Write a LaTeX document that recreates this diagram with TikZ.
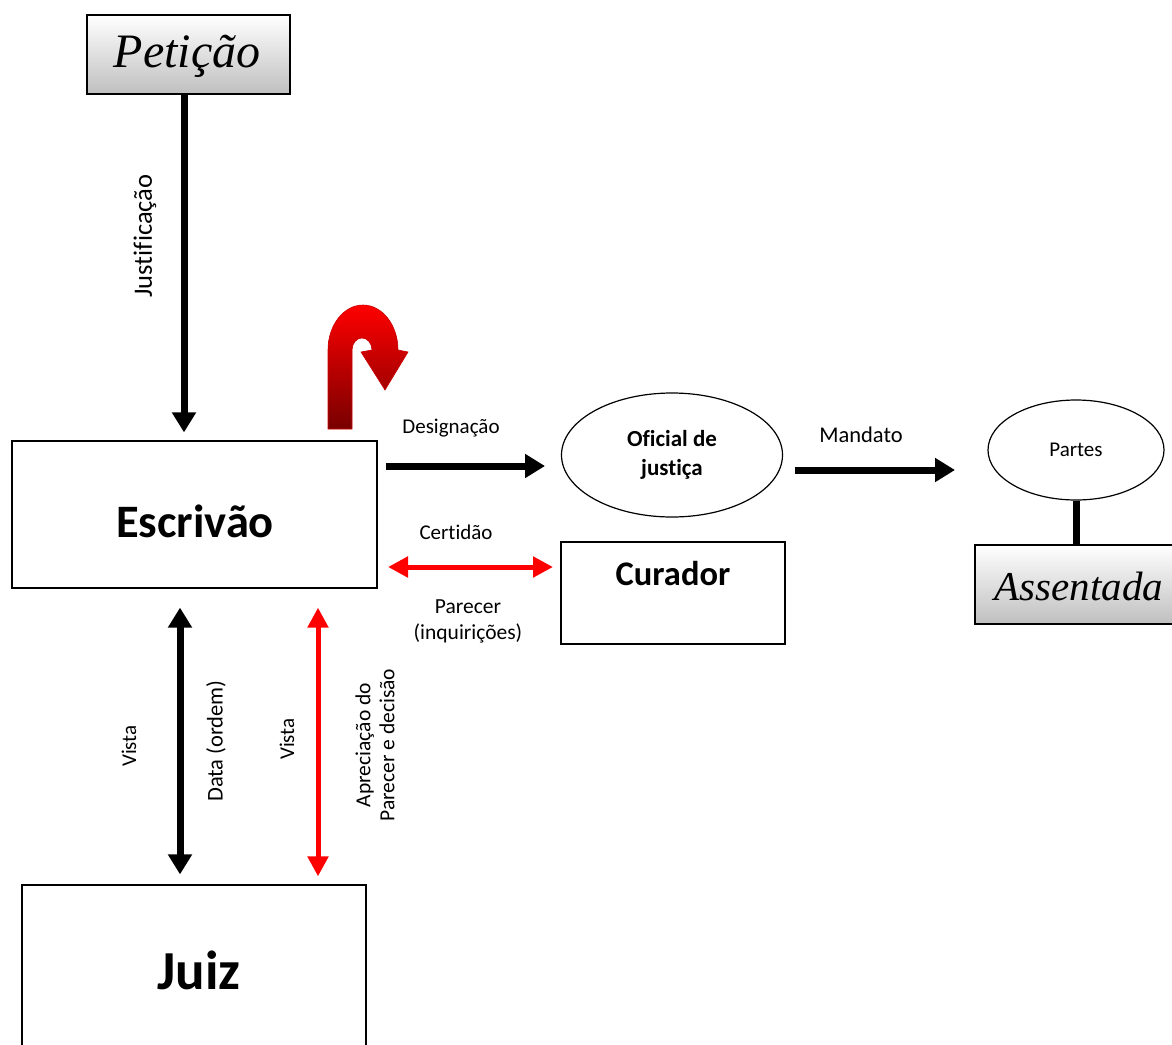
\documentclass[tikz,border=0pt]{standalone}
\usepackage{fontspec}
\setmainfont{Carlito}[Ligatures=NoCommon]
\newfontfamily\scr{Liberation Serif}
\usetikzlibrary{arrows.meta,shapes.geometric,calc}
\definecolor{rd}{RGB}{255,0,0}
\definecolor{drd}{RGB}{120,0,0}
\newcommand{\fs}[1]{\fontsize{#1}{#1}\selectfont}
\tikzset{
  box/.style={draw, line width=1.2pt, inner sep=0pt},
  gbox/.style={box, top color=white, bottom color=black!25},
  oval/.style={draw, ellipse, line width=1.2pt, inner sep=0pt},
  lbl/.style={font=\fs{21}, inner sep=0pt},
  blk/.style={line width=7pt, -{Triangle[width=23pt,length=20pt]}},
  dblk/.style={line width=7pt, {Triangle[width=23pt,length=20pt]}-{Triangle[width=23pt,length=20pt]}},
  drd/.style={rd, line width=5pt, {Triangle[width=20pt,length=20pt]}-{Triangle[width=20pt,length=20pt]}},
  big/.style={inner sep=0pt},
}
\begin{document}
\begin{tikzpicture}[x=1pt,y=-1pt]
\useasboundingbox[fill=white] (0,0) rectangle (1172,1044);

% nodes
\node[gbox, minimum width=203pt, minimum height=79pt] (pet) at (188.5,54.5) {};
\node[inner sep=0pt, font=\fs{48}\scr\itshape] at (187,56) {Petição};
\node[box, minimum width=365pt, minimum height=147pt] (esc) at (194.5,514.5) {};
\node[big, font=\fs{46.5}\bfseries] at (195,521) {Escrivão};
\node[box, minimum width=344pt, minimum height=165pt] (juiz) at (194,967.5) {};
\node[big, font=\fs{55}\bfseries] at (199,970) {Juiz};
\node[oval, minimum width=221pt, minimum height=124pt, align=center, font=\fontsize{23}{29}\selectfont\bfseries] (of) at (672,455) {Oficial de\\justiça};
\node[oval, minimum width=176pt, minimum height=100pt, font=\fs{21}] (par) at (1076,450) {Partes};
\node[gbox, minimum width=202pt, minimum height=79pt] (ass) at (1076,584.5) {};
\node[inner sep=0pt, font=\fs{41}\scr\itshape] at (1079,586) {Assentada};
\node[box, minimum width=224pt, minimum height=102pt] (cur) at (673,593) {};
\node[big, font=\fs{34.5}\bfseries] at (673,574) {Curador};

% connectors
\draw[blk] ($(pet.south)+(-4.5,0)$) -- ($(esc.north)+(-10.5,-8)$);
\node[lbl, rotate=90, font=\fs{26.5}] at (145,236) {Justificação};

\coordinate (d1) at (386,466);
\coordinate (d2) at (545,466);
\draw[blk] (d1) -- (d2);
\node[lbl] at (451,428) {Designação};

\coordinate (m1) at (795,470);
\coordinate (m2) at (955,470);
\draw[blk] (m1) -- (m2);
\node[lbl, font=\fs{22.5}] at (861,435) {Mandato};

\draw[line width=7pt] (par.south) -- (ass.north);

\coordinate (c1) at (388,567);
\coordinate (c2) at (553,567);
\draw[drd] (c1) -- (c2);
\node[lbl] at (456,532) {Certidão};
\node[lbl, align=center, font=\fontsize{21.5}{26}\selectfont] at (468,621) {Parecer\\(inquirições)};

\draw[dblk] ($(esc.south)+(-14.5,19)$) -- ($(juiz.north)+(-14,-10)$);
\draw[drd] ($(esc.south)+(123.5,19)$) -- ($(juiz.north)+(124,-8)$);
\node[lbl, rotate=90] at (129,746) {Vista};
\node[lbl, rotate=90, font=\fs{22.5}] at (216,741) {Data (ordem)};
\node[lbl, rotate=90] at (287,739) {Vista};
\node[lbl, rotate=90, align=center, font=\fontsize{21.5}{24}\selectfont] at (375,745) {Apreciação do\\Parecer e decisão};

% red U-turn arrow
\shade[top color=rd, bottom color=drd, draw=rd!80!black, line width=0.6pt]
  (328,429) -- (328,350)
  arc[start angle=180, end angle=360, x radius=35, y radius=45]
  -- (408,352) -- (385,390) -- (361,352) -- (372,350)
  arc[start angle=360, end angle=180, x radius=10, y radius=12]
  -- (352,429) -- cycle;
\end{tikzpicture}
\end{document}
